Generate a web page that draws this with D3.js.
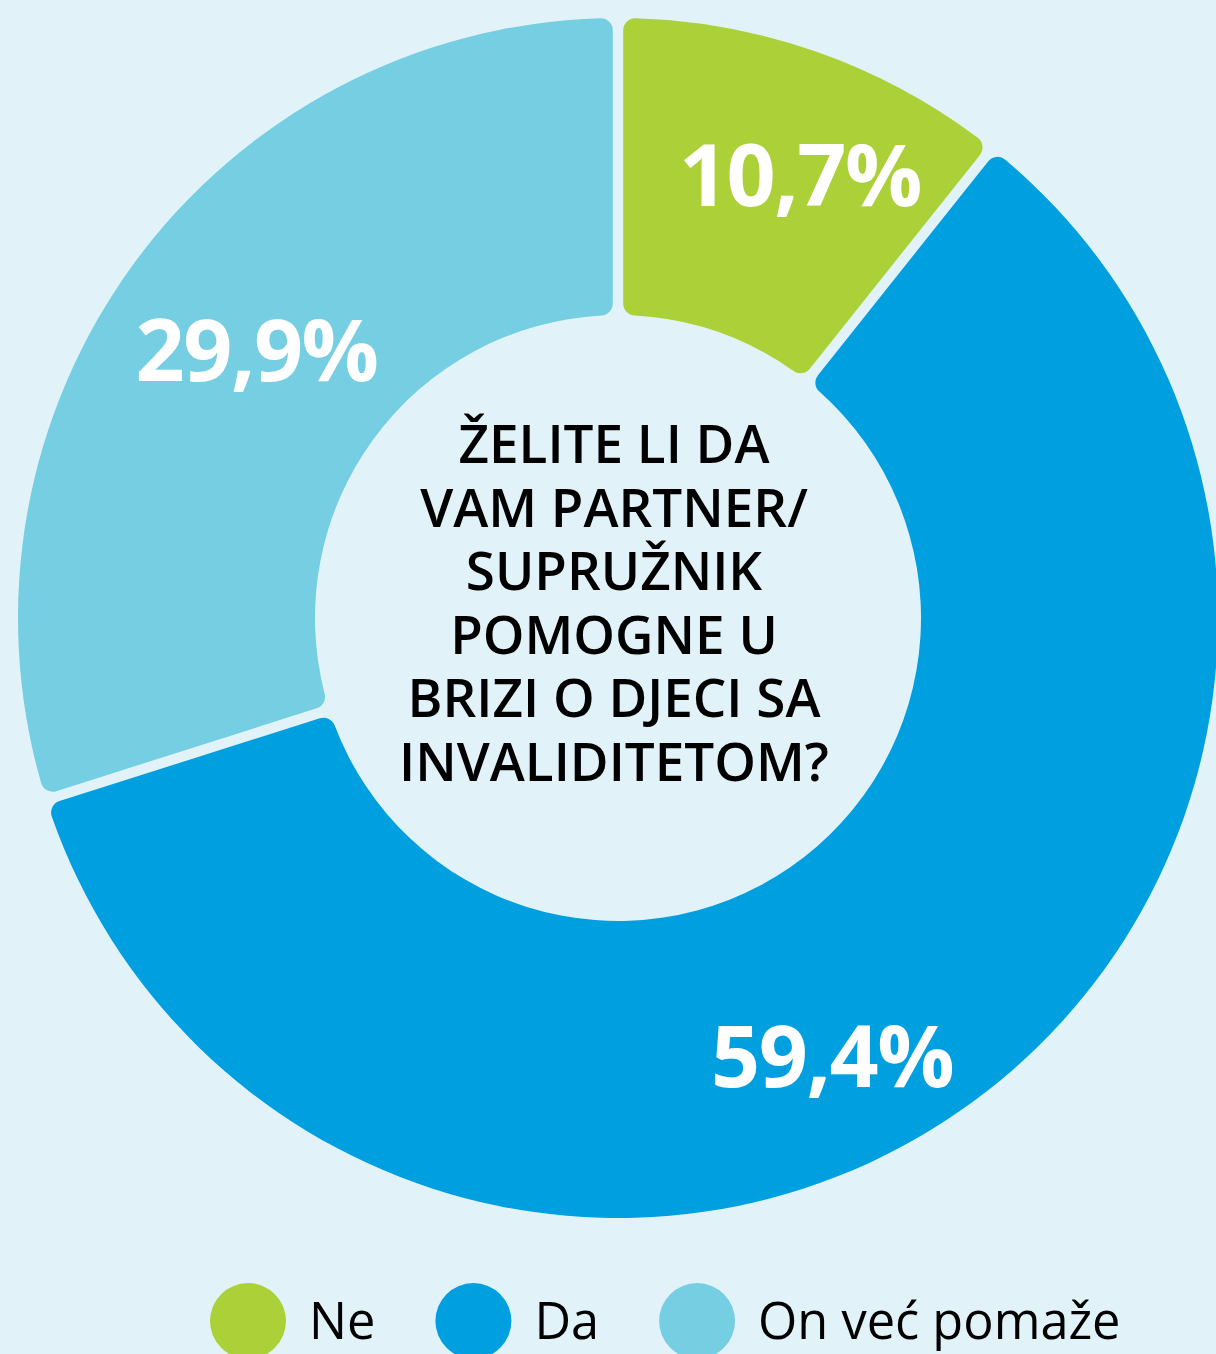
<!DOCTYPE html>
<html>
<head>
<meta charset="utf-8">
<script src="https://cdn.jsdelivr.net/npm/d3@7"></script>
<style>
  html, body { margin: 0; padding: 0; background: #e1f3f8; }
  svg { display: block; font-family: "Open Sans", sans-serif; }
</style>
</head>
<body>
<svg width="1216" height="1354"></svg>
<script>
const categories = ["Ne", "Da", "On već pomaže"];
const values = [10.7, 59.4, 29.9];
const colors = ["#acd038", "#009fdf", "#76cee2"];
const labels = ["10,7%", "59,4%", "29,9%"];
const question = ["ŽELITE LI DA", "VAM PARTNER/", "SUPRUŽNIK", "POMOGNE U", "BRIZI O DJECI SA", "INVALIDITETOM?"];

// hand nudges for the percentage labels, relative to the slice centroid
const labelNudge = [[33, -17], [-42, 66], [3, -1]];

const svg = d3.select("svg");
const cx = 618, cy = 618;
const outer = 600, inner = 303;

const pie = d3.pie().sort(null).value(d => d);
const arcs = pie(values);

const arc = d3.arc()
    .innerRadius(inner)
    .outerRadius(outer)
    .padAngle(0.0155)
    .cornerRadius(12);

const g = svg.append("g").attr("transform", `translate(${cx},${cy})`);

g.selectAll("path")
    .data(arcs)
    .enter().append("path")
    .attr("d", arc)
    .attr("fill", (d, i) => colors[i]);

g.selectAll("text.pct")
    .data(arcs)
    .enter().append("text")
    .attr("class", "pct")
    .attr("x", (d, i) => arc.centroid(d)[0] + labelNudge[i][0])
    .attr("y", (d, i) => arc.centroid(d)[1] + labelNudge[i][1])
    .attr("dy", "0.36em")
    .attr("text-anchor", "middle")
    .attr("fill", "#fff")
    .attr("font-weight", 700)
    .attr("font-size", 86)
    .attr("letter-spacing", -1.5)
    .text((d, i) => labels[i]);

// question in the hole, tight line spacing like the original
const lineH = 63.6;
const title = g.append("text")
    .attr("text-anchor", "middle")
    .attr("font-weight", 600)
    .attr("font-size", 53)
    .attr("fill", "#000");

title.selectAll("tspan")
    .data(question)
    .enter().append("tspan")
    .attr("x", -4)
    .attr("y", (d, i) => (i - (question.length - 1) / 2) * lineH - 15)
    .attr("dy", "0.36em")
    .text(d => d);

// legend
const r = 38;
const legend = svg.append("g").attr("transform", "translate(210,1321)");
let x = 0;
categories.forEach((c, i) => {
    const item = legend.append("g").attr("transform", `translate(${x},0)`);
    item.append("circle").attr("cx", r).attr("cy", 0).attr("r", r).attr("fill", colors[i]);
    const t = item.append("text")
        .attr("x", 2 * r + 23)
        .attr("y", 18)
        .attr("font-size", 50.5)
        .attr("fill", "#000")
        .text(c);
    x += 2 * r + 23 + t.node().getComputedTextLength() + 60;
});
</script>
</body>
</html>
